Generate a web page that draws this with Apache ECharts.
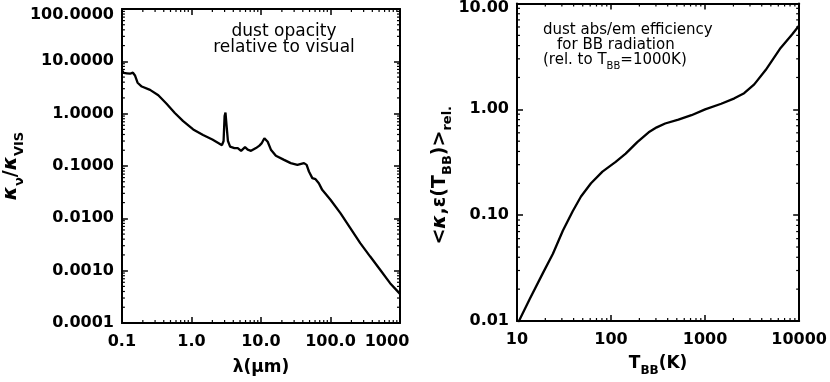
<!DOCTYPE html>
<html>
<head>
<meta charset="utf-8">
<script src="https://cdn.jsdelivr.net/npm/echarts@6/dist/echarts.min.js"></script>
<style>
html, body { margin: 0; padding: 0; background: #fff; }
#main { width: 830px; height: 382px; }
</style>
</head>
<body>
<div id="main"></div>
<script>
// left panel: dust opacity relative to visual
const wavelength = [0.1, 0.106, 0.118, 0.131, 0.144, 0.155, 0.168, 0.193, 0.254, 0.334, 0.439, 0.577, 0.76, 1.06, 1.47, 2.0, 2.5, 2.75, 2.9, 3.0, 3.09, 3.2, 3.35, 3.6, 4.15, 4.64, 5.18, 5.5, 5.9, 6.45, 7.2, 8.48, 9.5, 10.2, 11.2, 12.5, 13.9, 16.4, 21.5, 26.8, 33.4, 41.6, 45.4, 49, 54.8, 61, 68, 76, 100, 139, 193, 268, 373, 518, 720, 1000];
const opacity = [6.8, 6.0, 5.9, 5.8, 6.1, 5.3, 3.9, 3.3, 2.85, 2.25, 1.55, 1.03, 0.72, 0.5, 0.39, 0.32, 0.27, 0.25, 0.3, 0.9, 1.05, 0.6, 0.3, 0.235, 0.22, 0.22, 0.195, 0.2, 0.229, 0.205, 0.195, 0.22, 0.245, 0.27, 0.34, 0.29, 0.205, 0.157, 0.131, 0.1135, 0.105, 0.1135, 0.105, 0.0785, 0.0587, 0.056, 0.047, 0.035, 0.0226, 0.0126, 0.0065, 0.00336, 0.00186, 0.00104, 0.000577, 0.00036];

// right panel: abs/em efficiency for BB radiation
const tempBB = [10.3, 13.7, 18.9, 24.1, 30.7, 39.1, 47.9, 61.2, 81, 112, 143, 190, 251, 306, 376, 520, 716, 1000, 1484, 2050, 2600, 3330, 4400, 6350, 8400, 10000];
const efficiency = [0.0097, 0.0162, 0.0285, 0.0432, 0.0713, 0.109, 0.15, 0.2, 0.258, 0.319, 0.381, 0.49, 0.607, 0.676, 0.735, 0.8, 0.88, 1.0, 1.13, 1.27, 1.42, 1.72, 2.35, 3.8, 5.1, 6.2];

// tick labels
const leftXTicks = [0.1, 1, 10, 100, 1000];
const leftXLabels = ['0.1', '1.0', '10.0', '100.0', '1000'];
const leftYTicks = [0.0001, 0.001, 0.01, 0.1, 1, 10, 100];
const leftYLabels = ['0.0001', '0.0010', '0.0100', '0.1000', '1.0000', '10.0000', '100.0000'];
const rightXTicks = [10, 100, 1000, 10000];
const rightXLabels = ['10', '100', '1000', '10000'];
const rightYTicks = [0.01, 0.1, 1, 10];
const rightYLabels = ['0.01', '0.10', '1.00', '10.00'];

const FONT = 'DejaVu Sans';
const chart = echarts.init(document.getElementById('main'));

// label lookup, last label may get a shifted rich style
function labeler (ticks, labels, lastStyle) {
  return (v) => {
    const i = ticks.findIndex(t => Math.abs(Math.log10(t) - Math.log10(v)) < 1e-6);
    if (i < 0) return '';
    if (lastStyle && i === ticks.length - 1) return '{' + lastStyle + '|' + labels[i] + '}';
    return labels[i];
  };
}

// minor ticks 2..9 for each decade
function minorTicks (first, last) {
  const out = [];
  for (let d = first; d < last * 0.999; d *= 10) {
    for (let k = 2; k <= 9; k++) out.push(+(k * d).toPrecision(3));
  }
  return out;
}

const tickStyle = { show: true, inside: true, length: 6, lineStyle: { color: '#000', width: 1.5 } };
const lineStyle = { show: true, lineStyle: { color: '#000', width: 2 } };
const labelBase = { color: '#000', fontFamily: FONT, fontSize: 16, fontWeight: 'bold' };

function mainAxis (grid, pos, min, max, fmt, extra) {
  return Object.assign({
    type: 'log',
    logBase: 10,
    gridIndex: grid,
    position: pos,
    min: min,
    max: max,
    splitLine: { show: false },
    axisLine: lineStyle,
    axisTick: tickStyle,
    axisLabel: fmt ? Object.assign({ formatter: fmt }, labelBase) : { show: false }
  }, extra || {});
}

const sub = { fontFamily: FONT, fontSize: 12, fontWeight: 'bold', color: '#000', verticalAlign: 'bottom' };
const nrm = { fontFamily: FONT, fontSize: 17, fontWeight: 'bold', color: '#000', verticalAlign: 'bottom', padding: [0, 0, 5, 0] };
const nrmBig = Object.assign({}, nrm, { fontSize: 19 });
const kap = { fontFamily: FONT, fontSize: 20, color: '#000', fontStyle: 'italic', fontWeight: 'bold', verticalAlign: 'bottom', padding: [0, 0, 5, 0] };
const subBig = Object.assign({}, sub, { fontSize: 13 });

// minor tick renderer on the frame (bottom+top or left+right)
function minorRender (dir) {
  return (params, api) => {
    const cs = params.coordSys;
    const p = api.coord([api.value(0), api.value(1)]);
    const len = 3;
    const st = { stroke: '#000', lineWidth: 1.2 };
    if (dir === 'x') {
      return {
        type: 'group',
        children: [
          { type: 'line', shape: { x1: p[0], y1: cs.y + cs.height, x2: p[0], y2: cs.y + cs.height - len }, style: st },
          { type: 'line', shape: { x1: p[0], y1: cs.y, x2: p[0], y2: cs.y + len }, style: st }
        ]
      };
    }
    return {
      type: 'group',
      children: [
        { type: 'line', shape: { x1: cs.x, y1: p[1], x2: cs.x + len, y2: p[1] }, style: st },
        { type: 'line', shape: { x1: cs.x + cs.width, y1: p[1], x2: cs.x + cs.width - len, y2: p[1] }, style: st }
      ]
    };
  };
}

const option = {
  animation: false,
  backgroundColor: '#fff',
  grid: [
    { left: 120, right: 430, top: 9, bottom: 59 },
    { left: 517, right: 28, top: 3, bottom: 57 }
  ],
  xAxis: [
    mainAxis(0, 'bottom', 0.1, 1000, labeler(leftXTicks, leftXLabels, 'lf'), {
      name: 'λ(μm)',
      nameLocation: 'middle',
      nameGap: 36,
      nameTextStyle: { color: '#000', fontFamily: FONT, fontSize: 17, fontWeight: 'bold' }
    }),
    mainAxis(0, 'top', 0.1, 1000, null),
    mainAxis(1, 'bottom', 10, 10000, labeler(rightXTicks, rightXLabels), {
      name: '{n|T}{s|BB}{n|(K)}',
      nameLocation: 'middle',
      nameGap: 34,
      nameTextStyle: { rich: { n: nrm, s: sub } }
    }),
    mainAxis(1, 'top', 10, 10000, null)
  ],
  yAxis: [
    mainAxis(0, 'left', 0.0001, 100, labeler(leftYTicks, leftYLabels, 'dn'), {
      name: '{k|κ}{s|ν}{n|/}{k|κ}{s|VIS}',
      nameLocation: 'middle',
      nameGap: 92,
      nameTextStyle: { rich: { n: nrmBig, s: subBig, k: kap } }
    }),
    mainAxis(0, 'right', 0.0001, 100, null),
    mainAxis(1, 'left', 0.01, 10, labeler(rightYTicks, rightYLabels, 'dn2'), {
      name: '{n|<}{k|κ}{n|,ε(T}{s|BB}{n|)>}{s|rel.}',
      nameLocation: 'middle',
      nameGap: 62,
      nameTextStyle: { padding: [0, 26, 0, 0], rich: { n: nrmBig, s: subBig, k: kap } }
    }),
    mainAxis(1, 'right', 0.01, 10, null)
  ],
  series: [
    {
      type: 'line',
      xAxisIndex: 0,
      yAxisIndex: 0,
      showSymbol: false,
      lineStyle: { color: '#000', width: 2.3 },
      data: wavelength.map((w, i) => [w, opacity[i]])
    },
    {
      type: 'line',
      xAxisIndex: 2,
      yAxisIndex: 2,
      showSymbol: false,
      lineStyle: { color: '#000', width: 2.3 },
      data: tempBB.map((t, i) => [t, efficiency[i]])
    },
    {
      type: 'custom',
      xAxisIndex: 0,
      yAxisIndex: 0,
      renderItem: minorRender('x'),
      data: minorTicks(0.1, 1000).map(v => [v, 0.0001])
    },
    {
      type: 'custom',
      xAxisIndex: 0,
      yAxisIndex: 0,
      renderItem: minorRender('y'),
      data: minorTicks(0.0001, 100).map(v => [0.1, v])
    },
    {
      type: 'custom',
      xAxisIndex: 2,
      yAxisIndex: 2,
      renderItem: minorRender('x'),
      data: minorTicks(10, 10000).map(v => [v, 0.01])
    },
    {
      type: 'custom',
      xAxisIndex: 2,
      yAxisIndex: 2,
      renderItem: minorRender('y'),
      data: minorTicks(0.01, 10).map(v => [10, v])
    }
  ],
  graphic: [
    { type: 'text', x: 284, y: 32, style: { text: 'dust opacity', font: '17px "DejaVu Sans"', fill: '#000', align: 'center', verticalAlign: 'middle' } },
    { type: 'text', x: 284, y: 48, style: { text: 'relative to visual', font: '17px "DejaVu Sans"', fill: '#000', align: 'center', verticalAlign: 'middle' } },
    { type: 'text', x: 543, y: 30, style: { text: 'dust abs/em efficiency', font: '15px "DejaVu Sans"', fill: '#000', align: 'left', verticalAlign: 'middle' } },
    { type: 'text', x: 557, y: 45, style: { text: 'for BB radiation', font: '15px "DejaVu Sans"', fill: '#000', align: 'left', verticalAlign: 'middle' } },
    {
      type: 'text',
      x: 543,
      y: 62,
      style: {
        text: '{n|(rel. to T}{s|BB}{n|=1000K)}',
        align: 'left',
        verticalAlign: 'middle',
        rich: {
          n: { fontFamily: FONT, fontSize: 15, fill: '#000', verticalAlign: 'bottom', padding: [0, 0, 4, 0] },
          s: { fontFamily: FONT, fontSize: 10, fill: '#000', verticalAlign: 'bottom' }
        }
      }
    }
  ]
};

// shifted end labels, as in the original plot
option.xAxis[0].axisLabel.rich = { lf: Object.assign({ padding: [0, 26, 0, 0] }, labelBase) };
option.yAxis[0].axisLabel.rich = { dn: Object.assign({ padding: [11, 0, 0, 0] }, labelBase) };
option.yAxis[2].axisLabel.rich = { dn2: Object.assign({ padding: [9, 0, 0, 0] }, labelBase) };
option.yAxis[0].axisLabel.margin = 8;
option.yAxis[2].axisLabel.margin = 8;
option.xAxis[0].axisLabel.margin = 11;
option.xAxis[2].axisLabel.margin = 11;

chart.setOption(option);
</script>
</body>
</html>
